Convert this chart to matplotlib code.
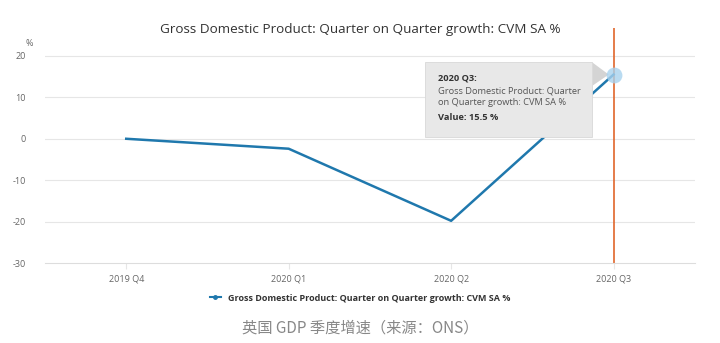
import matplotlib
matplotlib.use("Agg")
import matplotlib.pyplot as plt
from matplotlib.lines import Line2D
from matplotlib.patches import Rectangle, Polygon

quarters = ["2019 Q4", "2020 Q1", "2020 Q2", "2020 Q3"]
growth = [0.0, -2.4, -19.8, 15.5]
yticks = [-30, -20, -10, 0, 10, 20]
title = "Gross Domestic Product: Quarter on Quarter growth: CVM SA %"
caption = "英国 GDP 季度增速（来源：ONS）"

LINE = "#1f78ad"; CROSS = "#e0662b"; GRID = "#e6e6e6"; TXT = "#666666"
plt.rcParams["font.family"] = ["Open Sans", "DejaVu Sans"]

fig = plt.figure(figsize=(7.2, 3.43), dpi=100)
ax = fig.add_axes([0.0625, 0.233, 0.9025, 0.685])
x = list(range(len(quarters)))
ax.plot(x, growth, color=LINE, lw=1.8, zorder=3)
# hover halo on the last point
ax.scatter([x[-1]], [growth[-1]], s=130, color="#a8d2ee", alpha=0.8, zorder=8, lw=0)
ax.axvline(x[-1], color=CROSS, lw=1.2, zorder=2)

ax.set_xlim(-0.5, len(quarters) - 0.5)
ax.set_ylim(-30, 26.7)
ax.set_yticks(yticks)
ax.set_yticklabels([str(t) for t in yticks], color=TXT, fontsize=6.5)
ax.set_xticks(x)
ax.set_xticklabels(quarters, color=TXT, fontsize=6.5)
ax.tick_params(axis="y", length=0, pad=14)
ax.tick_params(axis="x", length=4, color=GRID, pad=4)
for t in yticks[1:]:
    ax.axhline(t, color=GRID, lw=0.8, zorder=1)
for s in ["top", "right", "left"]:
    ax.spines[s].set_visible(False)
ax.spines["bottom"].set_color("#dddddd")
ax.text(-0.62, 22.0, "%", color=TXT, fontsize=6.5, ha="left", va="bottom", clip_on=False)

# tooltip for 2020 Q3
ax.add_patch(Rectangle((1.84, 0.5), 1.03, 18.1, facecolor="#e8e8e8", edgecolor="#d8d8d8",
                       lw=0.6, zorder=6))
ax.add_patch(Polygon([(2.87, 18.4), (2.87, 12.8), (2.97, 15.5)], closed=True,
                     facecolor="#d4d4d4", edgecolor="none", zorder=5))
tx = 1.92
ax.text(tx, 14.7, "2020 Q3:", fontsize=6.7, fontweight="bold", color="#333333", zorder=7, va="center")
ax.text(tx, 10.2, "Gross Domestic Product: Quarter\non Quarter growth: CVM SA %",
        fontsize=6.7, color="#555555", zorder=7, linespacing=1.4, va="center")
ax.text(tx, 5.1, "Value: 15.5 %", fontsize=6.7, fontweight="bold", color="#333333", zorder=7, va="center")

fig.text(0.5, 0.913, title, ha="center", va="center", fontsize=9.7, color="#333333")
handle = Line2D([], [], color=LINE, lw=1.5, marker="o", ms=2.5)
fig.legend([handle], ["Gross Domestic Product: Quarter on Quarter growth: CVM SA %"],
           loc="center", bbox_to_anchor=(0.5, 0.131), frameon=False, handlelength=1.2,
           prop={"size": 6.5, "weight": "bold"}, labelcolor="#333333")
fig.text(0.5, 0.044, caption, ha="center", va="center", fontsize=11, color="#888888",
         family=["Noto Sans CJK SC", "DejaVu Sans"], fontweight="light")
fig.savefig("out.png", dpi=100)
